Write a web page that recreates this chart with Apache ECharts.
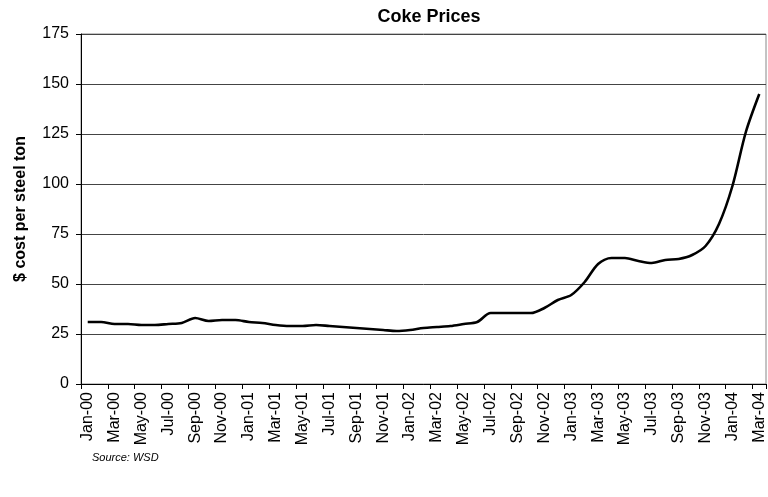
<!DOCTYPE html>
<html>
<head>
<meta charset="utf-8">
<script src="https://cdn.jsdelivr.net/npm/echarts@6/dist/echarts.min.js"></script>
<style>
  html, body { margin: 0; padding: 0; background: #fff; }
  #chart { width: 768px; height: 497px; }
</style>
</head>
<body>
<div id="chart"></div>
<script>
const months = ['Jan', 'Feb', 'Mar', 'Apr', 'May', 'Jun', 'Jul', 'Aug', 'Sep', 'Oct', 'Nov', 'Dec']
const years = ['00', '01', '02', '03', '04']
// Jan-00 .. Mar-04
const categories = []
years.forEach((y) => {
  months.forEach((m) => {
    categories.push(m + '-' + y)
  })
})
categories.length = 51

// $ cost per steel ton
const cokePrices = [
  31, 31, 30, 30, 29.5, 29.5, 30, 30.5, 33, 31.5, 32, 32,
  31, 30.5, 29.5, 29, 29, 29.5, 29, 28.5, 28, 27.5, 27, 26.5,
  27, 28, 28.5, 29, 30, 31, 35.5, 35.5, 35.5, 35.5, 38, 42,
  44.5, 51, 60, 63, 63, 61.5, 60.5, 62, 62.5, 64.5, 69, 80,
  99, 126, 145
]
const yTicks = { min: 0, max: 175, interval: 25 }

const chart = echarts.init(document.getElementById('chart'))
const option = {
  animation: false,
  title: {
    text: 'Coke Prices',
    left: 424,
    top: 3,
    textAlign: 'center',
    textStyle: { fontFamily: 'Liberation Sans, Arial', fontSize: 18, fontWeight: 'bold', color: '#000' }
  },
  grid: {
    left: 81,
    right: 2,
    top: 34,
    bottom: 113,
    show: true,
    borderColor: '#888',
    borderWidth: 1
  },
  xAxis: {
    type: 'category',
    data: categories,
    boundaryGap: true,
    axisLine: { lineStyle: { color: '#000', width: 1 } },
    axisTick: { show: true, interval: 1, length: 5, lineStyle: { color: '#000' } },
    axisLabel: {
      interval: 1,
      rotate: 90,
      margin: 8,
      fontFamily: 'Liberation Sans, Arial',
      fontSize: 16,
      color: '#000'
    }
  },
  yAxis: {
    type: 'value',
    min: yTicks.min,
    max: yTicks.max,
    interval: yTicks.interval,
    name: '$ cost per steel ton',
    nameLocation: 'middle',
    nameGap: 52,
    nameRotate: 90,
    nameTextStyle: { fontFamily: 'Liberation Sans, Arial', fontSize: 16, fontWeight: 'bold', color: '#000' },
    axisLine: { show: true, lineStyle: { color: '#000', width: 1 } },
    axisTick: { show: true, length: 5, lineStyle: { color: '#000' } },
    axisLabel: { fontFamily: 'Liberation Sans, Arial', fontSize: 16, color: '#000', margin: 12 },
    splitLine: { show: true, lineStyle: { color: '#444', width: 1 } }
  },
  series: [{
    type: 'line',
    data: cokePrices,
    smooth: 0.3,
    symbol: 'none',
    lineStyle: { color: '#000', width: 2.6 }
  }],
  graphic: [{
    type: 'text',
    left: 92,
    top: 452,
    style: {
      text: 'Source: WSD',
      font: 'italic 11px "Liberation Sans Narrow", "Liberation Sans", Arial',
      fill: '#000'
    }
  }]
}
chart.setOption(option)
</script>
</body>
</html>
